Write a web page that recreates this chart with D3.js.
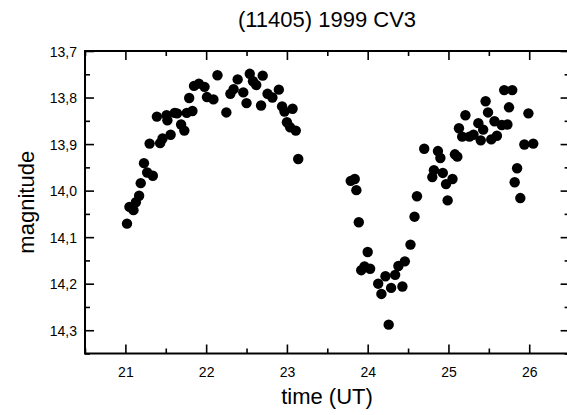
<!DOCTYPE html>
<html>
<head>
<meta charset="utf-8">
<script src="https://cdn.jsdelivr.net/npm/d3@7"></script>
<style>
  html, body { margin: 0; padding: 0; background: #fff; }
  svg { display: block; font-family: "Liberation Sans", Arial, sans-serif; }
</style>
</head>
<body>
<svg id="chart" width="567" height="415"></svg>
<script>
const title = "(11405) 1999 CV3";
const xLabel = "time (UT)";
const yLabel = "magnitude";

const times = [
  21.02, 21.05, 21.10, 21.13, 21.17, 21.19, 21.23, 21.27, 21.34, 21.30,
  21.39, 21.43, 21.46, 21.51, 21.52, 21.56, 21.61, 21.64, 21.69, 21.73,
  21.76, 21.83, 21.79, 21.85, 21.91, 21.98, 22.01, 22.09, 22.14, 22.25,
  22.30, 22.34, 22.39, 22.46, 22.50, 22.54, 22.58, 22.62, 22.70, 22.68,
  22.76, 22.82, 22.90, 22.94, 22.97, 23.07, 23.00, 23.04, 23.11, 23.14,
  23.79, 23.84, 23.86, 23.89, 23.92, 23.96, 24.00, 24.03, 24.13, 24.17,
  24.22, 24.26, 24.29, 24.34, 24.38, 24.43, 24.46, 24.53, 24.58, 24.61,
  24.70, 24.80, 24.82, 24.87, 24.90, 24.93, 24.97, 24.99, 25.05, 25.08,
  25.11, 25.13, 25.17, 25.21, 25.26, 25.31, 25.37, 25.40, 25.43, 25.46,
  25.49, 25.53, 25.57, 25.60, 25.66, 25.73, 25.69, 25.79, 25.75, 25.99,
  25.94, 26.05, 25.85, 25.82, 25.89
];
const magnitudes = [
  14.071, 14.035, 14.042, 14.025, 14.011, 13.984, 13.941, 13.961, 13.968, 13.899,
  13.841, 13.898, 13.888, 13.838, 13.849, 13.880, 13.833, 13.834, 13.858, 13.871,
  13.833, 13.829, 13.801, 13.775, 13.770, 13.777, 13.799, 13.804, 13.752, 13.832,
  13.792, 13.782, 13.761, 13.789, 13.812, 13.749, 13.765, 13.773, 13.753, 13.817,
  13.792, 13.800, 13.783, 13.819, 13.830, 13.824, 13.853, 13.864, 13.871, 13.932,
  13.979, 13.975, 13.999, 14.068, 14.171, 14.163, 14.132, 14.168, 14.200, 14.222,
  14.184, 14.288, 14.209, 14.181, 14.162, 14.206, 14.152, 14.116, 14.056, 14.012,
  13.910, 13.971, 13.956, 13.915, 13.930, 13.962, 13.986, 14.021, 13.975, 13.922,
  13.927, 13.866, 13.884, 13.838, 13.884, 13.880, 13.855, 13.892, 13.869, 13.808,
  13.832, 13.890, 13.851, 13.882, 13.859, 13.858, 13.784, 13.784, 13.821, 13.834,
  13.901, 13.899, 13.952, 13.982, 14.016
];

const xTicks = [21, 22, 23, 24, 25, 26];
const xMinorTicks = [20.5, 21.5, 22.5, 23.5, 24.5, 25.5, 26.5];
const yTicks = [13.7, 13.8, 13.9, 14.0, 14.1, 14.2, 14.3];
const yMinorTicks = [13.75, 13.85, 13.95, 14.05, 14.15, 14.25, 14.35];
const xDomain = [20.5, 26.5];
const yDomain = [13.7, 14.35];

const svg = d3.select("#chart");
const pLeft = 85, pRight = 569.6, pTop = 51, pBottom = 353.5;

const x = d3.scaleLinear().domain(xDomain).range([pLeft, pRight]);
const y = d3.scaleLinear().domain(yDomain).range([pTop, pBottom]);

const commaFmt = d3.formatLocale({decimal: ",", thousands: ".", grouping: [3], currency: ["", ""]}).format(".1f");

const MAJ = 9, MIN = 5;
const fontTick = 14;

function styleAxis(g) {
  g.select(".domain").remove();
  g.selectAll(".tick line").attr("stroke", "#000").attr("stroke-width", 1.6);
  g.selectAll(".tick text").attr("fill", "#000").attr("font-size", fontTick)
    .attr("font-family", "'Liberation Sans', Arial, sans-serif");
}

// Bottom axis
svg.append("g").attr("transform", `translate(0,${pBottom})`)
  .call(d3.axisBottom(x).tickValues(xTicks).tickFormat(d3.format("d")).tickSizeInner(-MAJ).tickSizeOuter(0).tickPadding(0))
  .call(styleAxis)
  .call(g => g.selectAll(".tick text").attr("y", 23).attr("dy", null));
svg.append("g").attr("transform", `translate(0,${pBottom})`)
  .call(d3.axisBottom(x).tickValues(xMinorTicks).tickFormat("").tickSizeInner(-MIN).tickSizeOuter(0))
  .call(styleAxis);
// Top axis
svg.append("g").attr("transform", `translate(0,${pTop})`)
  .call(d3.axisTop(x).tickValues(xTicks).tickFormat("").tickSizeInner(-MAJ).tickSizeOuter(0))
  .call(styleAxis);
svg.append("g").attr("transform", `translate(0,${pTop})`)
  .call(d3.axisTop(x).tickValues(xMinorTicks).tickFormat("").tickSizeInner(-MIN).tickSizeOuter(0))
  .call(styleAxis);
// Left axis
svg.append("g").attr("transform", `translate(${pLeft},0)`)
  .call(d3.axisLeft(y).tickValues(yTicks).tickFormat(commaFmt).tickSizeInner(-MAJ).tickSizeOuter(0).tickPadding(0))
  .call(styleAxis)
  .call(g => g.selectAll(".tick text").attr("x", -8).attr("dy", "0.36em"));
svg.append("g").attr("transform", `translate(${pLeft},0)`)
  .call(d3.axisLeft(y).tickValues(yMinorTicks).tickFormat("").tickSizeInner(-MIN).tickSizeOuter(0))
  .call(styleAxis);
// Right axis
svg.append("g").attr("transform", `translate(${pRight},0)`)
  .call(d3.axisRight(y).tickValues(yTicks).tickFormat("").tickSizeInner(-MAJ).tickSizeOuter(0))
  .call(styleAxis);
svg.append("g").attr("transform", `translate(${pRight},0)`)
  .call(d3.axisRight(y).tickValues(yMinorTicks).tickFormat("").tickSizeInner(-MIN).tickSizeOuter(0))
  .call(styleAxis);

// Frame
svg.append("rect")
  .attr("x", pLeft).attr("y", pTop)
  .attr("width", pRight - pLeft).attr("height", pBottom - pTop)
  .attr("fill", "none").attr("stroke", "#000").attr("stroke-width", 2);

// Points
const pts = times.map((t, i) => ({t, m: magnitudes[i]}));
svg.append("g").selectAll("circle").data(pts).join("circle")
  .attr("cx", d => x(d.t)).attr("cy", d => y(d.m))
  .attr("r", 5.2).attr("fill", "#000");

// Title and labels
svg.append("text").attr("x", 327).attr("y", 27).attr("text-anchor", "middle")
  .attr("font-size", 22).attr("fill", "#000").text(title);
svg.append("text").attr("x", 327).attr("y", 404).attr("text-anchor", "middle")
  .attr("font-size", 22).attr("fill", "#000").text(xLabel);
svg.append("text").attr("transform", `translate(34,${(pTop + pBottom) / 2}) rotate(-90)`)
  .attr("text-anchor", "middle").attr("font-size", 22).attr("fill", "#000").text(yLabel);
</script>
</body>
</html>
